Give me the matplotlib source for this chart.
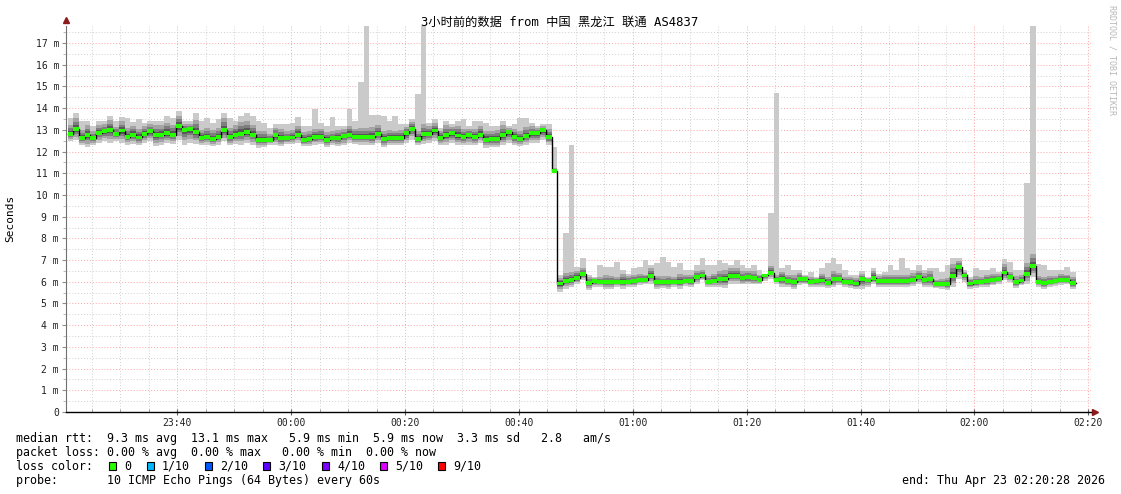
import numpy as np
import pandas as pd
import matplotlib
matplotlib.use("Agg")
import matplotlib.pyplot as plt
import matplotlib.dates as mdates
from matplotlib.ticker import MultipleLocator, FuncFormatter
from matplotlib.patches import Rectangle

# median rtt per minute (ms)
median_ms = [
    12.83, 13.03, 12.62, 12.77, 12.62, 12.86, 12.94, 13.00, 12.80, 12.97,
    12.68, 12.78, 12.65, 12.82, 12.94, 12.75, 12.78, 12.85, 12.78, 13.17,
    12.98, 13.03, 12.89, 12.63, 12.68, 12.60, 12.69, 13.00, 12.68, 12.78,
    12.83, 12.89, 12.77, 12.54, 12.55, 12.55, 12.75, 12.63, 12.63, 12.65,
    12.78, 12.55, 12.58,
    12.66, 12.69, 12.54, 12.62, 12.62, 12.71, 12.78,
    12.69, 12.69, 12.69, 12.69, 12.80, 12.57, 12.63, 12.63, 12.63, 12.85,
    13.06, 12.60, 12.80, 12.80, 12.97, 12.63, 12.75, 12.85, 12.74, 12.66,
    12.75, 12.66, 12.78, 12.55, 12.57, 12.58, 12.75, 12.89, 12.66, 12.58,
    12.72, 12.85, 12.85, 12.98, 12.66, 11.10,
    5.92, 6.03, 6.09, 6.18, 6.34, 5.94, 6.03, 5.98, 5.98, 5.97,
    5.97, 6.00, 6.00, 6.02, 6.09, 6.09, 6.28, 5.97, 5.97, 5.97,
    5.98, 6.00, 6.05, 6.03, 6.20, 6.29, 6.00, 6.05, 6.11, 6.11,
    6.26, 6.26, 6.17, 6.20, 6.17, 6.09, 6.29, 6.42, 6.09, 6.12,
    6.03, 5.98, 6.11, 6.11, 5.97,
    6.03, 6.06, 5.95, 6.11, 6.11, 5.98, 5.97, 5.92, 6.11, 6.06,
    6.18, 6.03, 6.03, 6.03, 6.03, 6.03, 6.03, 6.09, 6.20, 6.08,
    6.11, 5.89, 5.89, 5.89, 6.28, 6.68, 6.29, 5.92, 5.97, 5.98,
    6.03, 6.08, 6.12, 6.43, 6.22, 5.97, 6.06, 6.37, 6.74, 6.00,
    5.94, 6.00, 6.03, 6.09, 6.09, 5.94,
]

# slowest ping of each minute (top of the smoke)
max_ms = [
    13.55, 13.78, 13.40, 13.40, 13.17, 13.40, 13.40, 13.63, 13.40, 13.58,
    13.55, 13.37, 13.52, 13.32, 13.40, 13.40, 13.40, 13.63, 13.55, 13.86,
    13.40, 13.40, 13.78, 13.40, 13.55, 13.32, 13.48, 13.78, 13.55, 13.40,
    13.63, 13.78, 13.63, 13.40, 13.32, 13.09, 13.25, 13.25, 13.25, 13.32,
    13.58, 13.17, 13.17,
    13.94, 13.32, 13.17, 13.58, 13.17, 13.17, 13.94,
    13.40, 15.20, 17.90, 13.70, 13.70, 13.63, 13.40, 13.63, 13.25, 13.25,
    13.48, 14.65, 17.90, 13.32, 13.48, 13.09, 13.40, 13.25, 13.40, 13.48,
    13.17, 13.40, 13.40, 13.32, 13.17, 13.17, 13.40, 13.17, 13.25, 13.55,
    13.55, 13.32, 13.17, 13.25, 13.28, 12.20,
    6.30, 8.25, 12.30, 6.69, 7.08, 6.31, 6.23, 6.77, 6.69, 6.69,
    6.92, 6.54, 6.38, 6.62, 6.69, 7.00, 6.77, 6.85, 7.15, 6.92,
    6.69, 6.85, 6.54, 6.54, 6.77, 7.08, 6.77, 6.77, 7.00, 6.85,
    6.77, 7.00, 6.77, 6.62, 6.77, 6.54, 6.38, 9.15, 14.70, 6.62,
    6.77, 6.54, 6.54, 6.31, 6.46,
    6.23, 6.62, 6.85, 7.08, 6.80, 6.54, 6.31, 6.31, 6.49, 6.23,
    6.65, 6.38, 6.46, 6.77, 6.54, 7.08, 6.62, 6.54, 6.77, 6.54,
    6.65, 6.62, 6.46, 6.77, 7.08, 7.08, 6.54, 6.23, 6.62, 6.54,
    6.54, 6.62, 6.46, 7.05, 6.92, 6.54, 6.54, 10.55, 17.90, 6.80,
    6.77, 6.54, 6.54, 6.54, 6.69, 6.46,
]

# fastest ping of each minute (bottom of the smoke)
min_ms = [
    12.48, 12.55, 12.29, 12.20, 12.32, 12.40, 12.48, 12.40, 12.48, 12.40,
    12.32, 12.35, 12.29, 12.40, 12.48, 12.25, 12.29, 12.40, 12.35, 12.55,
    12.32, 12.40, 12.35, 12.29, 12.32, 12.25, 12.32, 12.48, 12.29, 12.35,
    12.32, 12.40, 12.32, 12.17, 12.20, 12.32, 12.29, 12.25, 12.35, 12.35,
    12.40, 12.25, 12.25,
    12.32, 12.35, 12.20, 12.32, 12.25, 12.29, 12.40,
    12.35, 12.32, 12.32, 12.29, 12.40, 12.20, 12.29, 12.32, 12.29, 12.40,
    12.55, 12.29, 12.35, 12.40, 12.48, 12.29, 12.32, 12.40, 12.32, 12.29,
    12.32, 12.29, 12.40, 12.17, 12.20, 12.20, 12.29, 12.40, 12.29, 12.25,
    12.32, 12.40, 12.40, 12.55, 12.32, 11.00,
    5.54, 5.69, 5.77, 5.88, 6.08, 5.62, 5.77, 5.77, 5.69, 5.69,
    5.77, 5.69, 5.77, 5.77, 5.85, 5.88, 5.92, 5.69, 5.72, 5.69,
    5.77, 5.69, 5.82, 5.77, 5.92, 6.08, 5.77, 5.77, 5.77, 5.72,
    5.92, 5.92, 5.88, 5.88, 5.88, 5.88, 6.03, 6.15, 5.92, 5.77,
    5.77, 5.69, 5.85, 5.88, 5.77,
    5.77, 5.77, 5.72, 5.77, 5.85, 5.77, 5.72, 5.69, 5.69, 5.77,
    5.88, 5.77, 5.77, 5.77, 5.77, 5.77, 5.77, 5.82, 5.92, 5.77,
    5.77, 5.72, 5.69, 5.62, 5.77, 6.15, 6.00, 5.69, 5.72, 5.77,
    5.77, 5.85, 5.92, 6.08, 6.00, 5.72, 5.85, 5.92, 6.23, 5.77,
    5.69, 5.77, 5.82, 5.85, 5.88, 5.69,
]

loss_labels = ["0", "1/10", "2/10", "3/10", "4/10", "5/10", "9/10"]
loss_colors = ["#26ff00", "#00b8ff", "#0059ff", "#5e00ff", "#7e00ff", "#dd00ff", "#ff0000"]

title = "3小时前的数据 from 中国 黑龙江 联通 AS4837"
start = pd.Timestamp("2026-04-22 23:20:28")
end = pd.Timestamp("2026-04-23 02:20:28")
times = pd.date_range("2026-04-22 23:20:45", periods=len(median_ms), freq="60s")

W, H = 1121, 494
mono = ["DejaVu Sans Mono", "Noto Sans CJK SC"]

def fx(px):
    return px / W

def fy(py):
    return 1 - py / H

fig = plt.figure(figsize=(W / 100, H / 100), dpi=100)
ax = fig.add_axes([fx(66), fy(412), 1025 / W, 386.3 / H])

med = np.array(median_ms)
top = np.array(max_ms)
bot = np.array(min_ms)

x = mdates.date2num(times)
xe = np.append(x, x[-1] + 1 / 1440)

def ext(a):
    return np.append(a, a[-1])

# smoke: outer band is min..max, inner bands get darker towards the median
lo_w = med - bot
hi_w = np.minimum(top - med, 1.4 * lo_w + 0.05)
ax.fill_between(xe, ext(bot), ext(top), step="post", color="#cacaca", lw=0, zorder=2)
for frac, col in [(0.7, "#a4a4a4"), (0.45, "#7e7e7e"), (0.25, "#585858"), (0.1, "#323232")]:
    ax.fill_between(xe, ext(med - lo_w * frac), ext(med + hi_w * frac),
                    step="post", color=col, lw=0, zorder=3)

# median line + loss colour band
ax.step(xe, ext(med), where="post", color="black", lw=1, zorder=4)
ax.fill_between(xe, ext(med - 0.09), ext(med + 0.09), step="post",
                color=loss_colors[0], lw=0, zorder=5)

ax.set_xlim(mdates.date2num(start), mdates.date2num(end))
ax.set_ylim(0, 17.8)

ax.yaxis.set_major_locator(MultipleLocator(1))
ax.yaxis.set_minor_locator(MultipleLocator(0.5))
ax.yaxis.set_major_formatter(FuncFormatter(lambda v, p: "0" if v == 0 else f"{int(round(v))} m"))
ax.xaxis.set_major_locator(mdates.MinuteLocator(byminute=[0, 20, 40]))
ax.xaxis.set_minor_locator(mdates.MinuteLocator(byminute=range(0, 60, 5)))
ax.xaxis.set_major_formatter(mdates.DateFormatter("%H:%M"))

ax.set_axisbelow(True)
ax.grid(which="major", color="#ffa4a4", ls=(0, (1, 2)), lw=0.7)
ax.grid(which="minor", color="#d0d0d0", ls=(0, (1, 2)), lw=0.7)

for s in ["top", "right"]:
    ax.spines[s].set_visible(False)
ax.spines["left"].set_color("#707070")
ax.spines["bottom"].set_color("black")
ax.spines["bottom"].set_linewidth(1.0)

ax.tick_params(axis="y", which="major", length=3, color="#909090", pad=2,
               labelsize=7, labelcolor="#202020")
ax.tick_params(axis="y", which="minor", length=2, color="#b0b0b0")
ax.tick_params(axis="x", which="major", direction="inout", length=5, color="#606060",
               pad=2, labelsize=7, labelcolor="#202020")
ax.tick_params(axis="x", which="minor", direction="in", length=2, color="#909090")
for lbl in ax.get_xticklabels() + ax.get_yticklabels():
    lbl.set_family("DejaVu Sans Mono")

# axis arrows
ax.plot([0], [1.016], marker="^", color="#8b1a1a", ms=4.5, transform=ax.transAxes, clip_on=False)
ax.plot([1.004], [0], marker=">", color="#8b1a1a", ms=4.5, transform=ax.transAxes, clip_on=False)

fig.text(fx(560), fy(22), title, ha="center", va="center", fontsize=8.8, family=mono)
fig.text(fx(10), fy(218), "Seconds", rotation=90, ha="center", va="center",
         fontsize=8, family=mono)
fig.text(fx(1112), fy(60), "RRDTOOL / TOBI OETIKER", rotation=270, ha="center",
         va="center", fontsize=6, color="#b8b8b8", family=mono)

fs = 8.4
fig.text(fx(16), fy(438), "median rtt:  9.3 ms avg  13.1 ms max   5.9 ms min  5.9 ms now  3.3 ms sd   2.8   am/s",
         va="center", fontsize=fs, family=mono)
fig.text(fx(16), fy(452), "packet loss: 0.00 % avg  0.00 % max   0.00 % min  0.00 % now",
         va="center", fontsize=fs, family=mono)
fig.text(fx(16), fy(466), "loss color:", va="center", fontsize=fs, family=mono)
fig.text(fx(16), fy(480), "probe:       10 ICMP Echo Pings (64 Bytes) every 60s",
         va="center", fontsize=fs, family=mono)
fig.text(fx(1105), fy(480), "end: Thu Apr 23 02:20:28 2026", ha="right",
         va="center", fontsize=fs, family=mono)

box_x = [109, 147, 205, 263, 322, 380, 438]
for bx, lab, col in zip(box_x, loss_labels, loss_colors):
    fig.patches.append(Rectangle((fx(bx), fy(470)), 7 / W, 8 / H, transform=fig.transFigure,
                                 facecolor=col, edgecolor="black", lw=0.8))
    fig.text(fx(bx + 15), fy(466), lab, va="center", fontsize=fs, family=mono)

fig.savefig("out.png", dpi=100)
